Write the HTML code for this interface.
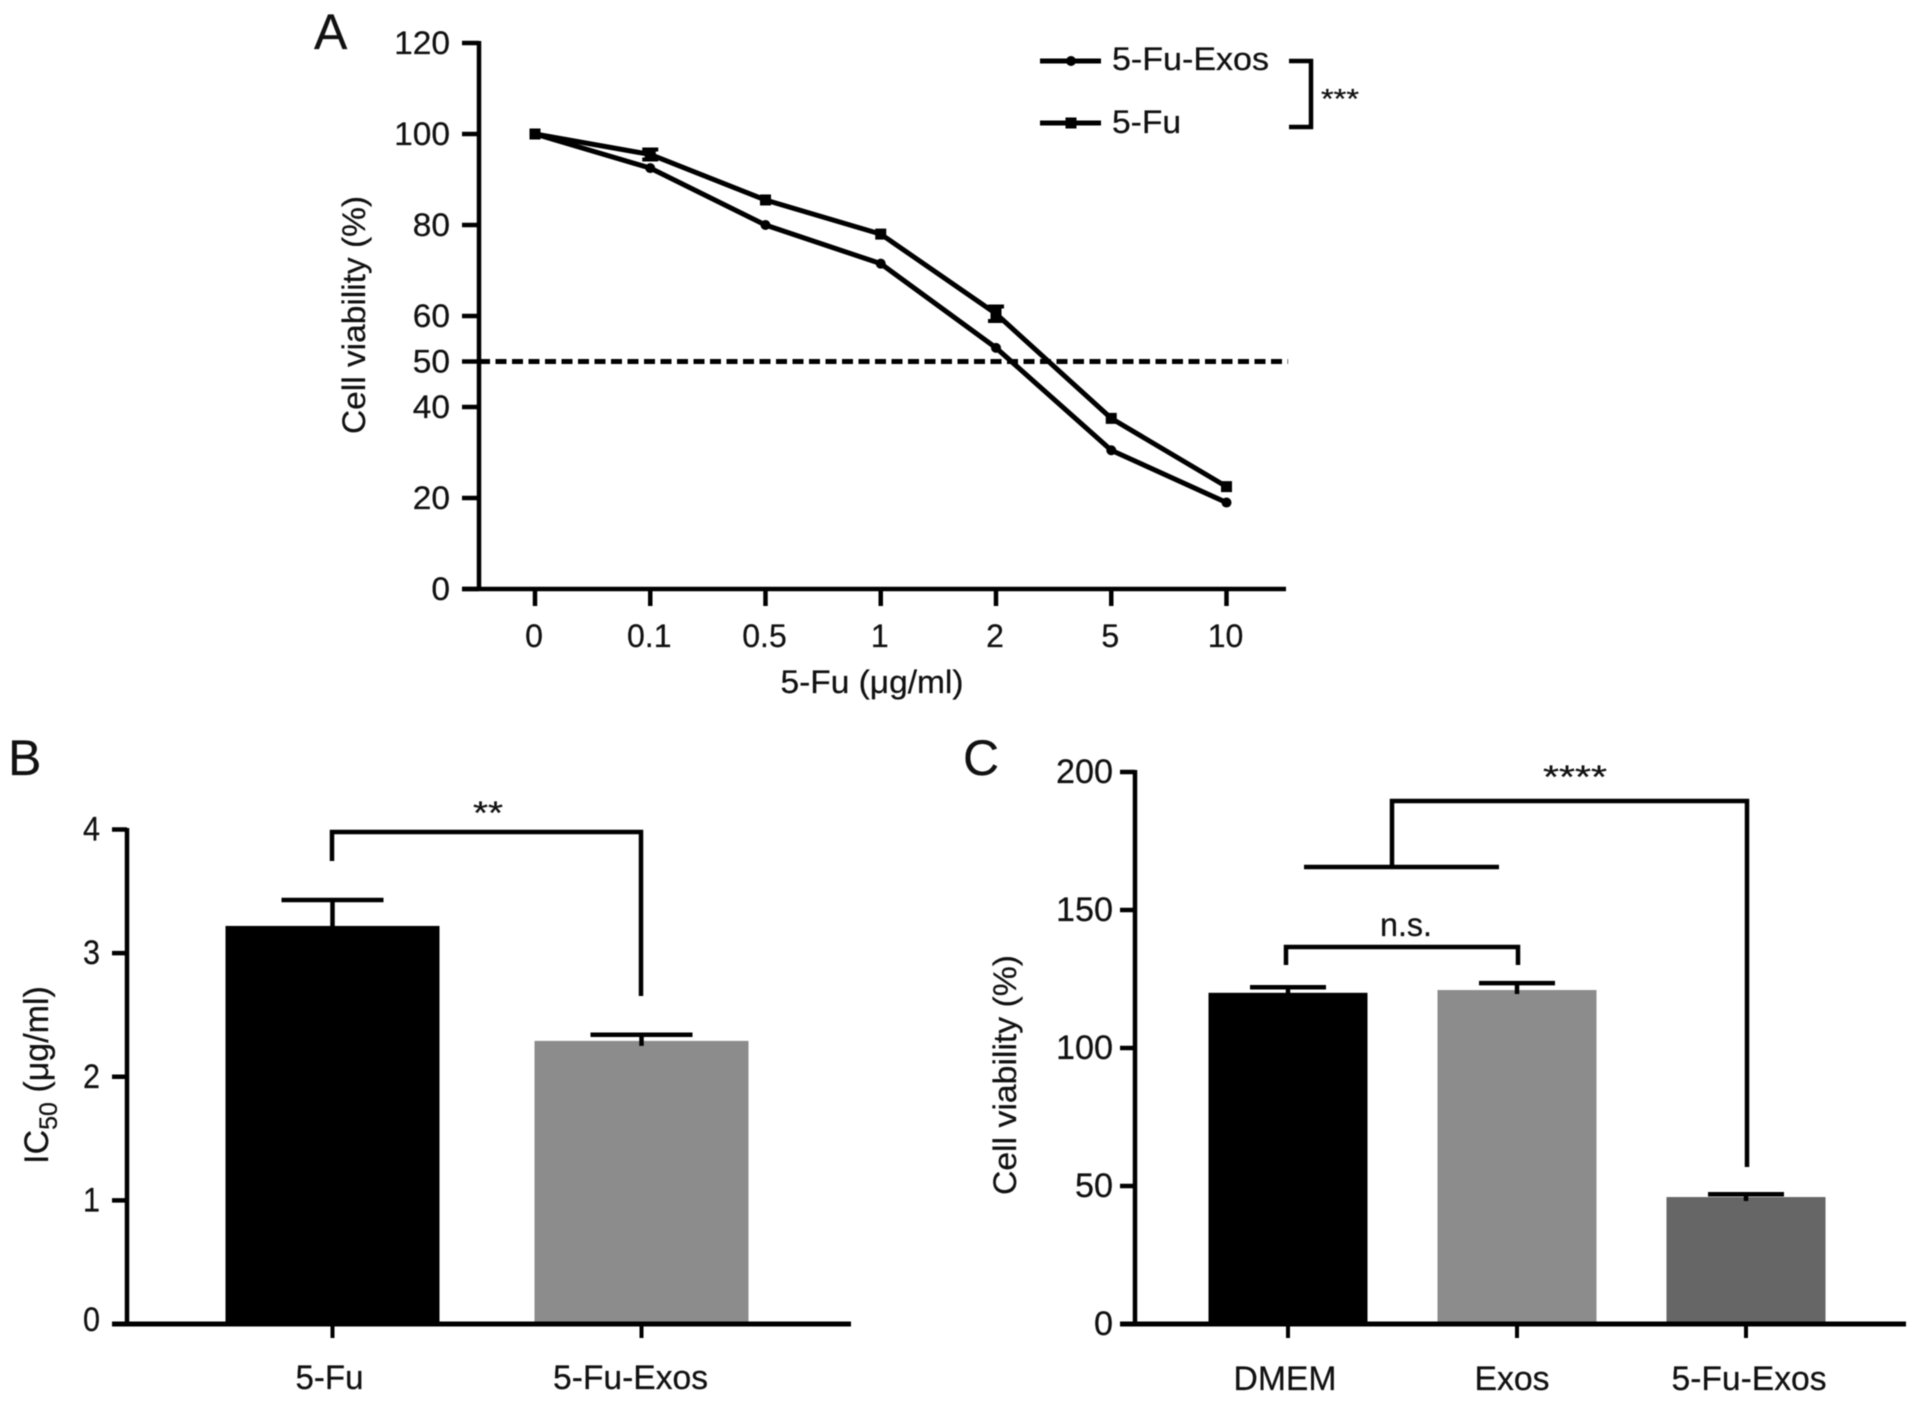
<!DOCTYPE html>
<html lang="en">
<head>
<meta charset="utf-8">
<title>Cell viability and IC50 charts</title>
<style>
html,body{margin:0;padding:0;background:#fff;}
svg{display:block;filter:blur(0.6px);}
text{font-family:"Liberation Sans",sans-serif;fill:#111;stroke:#111;stroke-width:0.25px;}
</style>
</head>
<body>
<svg id="figure" xmlns="http://www.w3.org/2000/svg" width="1913" height="1401" viewBox="0 0 1913 1401"></svg>
<script>
// Panel A data
const doseCategories = ['0', '0.1', '0.5', '1', '2', '5', '10'];
const exosViability = [100, 92.5, 80, 71.5, 53, 30.5, 19];
const fuViability = [100, 95.5, 85.5, 78, 60.5, 37.5, 22.5];
const fuError = [0, 1.1, 0, 0, 1.6, 0, 0];
const panelATicks = [0, 20, 40, 50, 60, 80, 100, 120];
const referenceLevel = 50;
// Panel B data
const icCategories = ['5-Fu', '5-Fu-Exos'];
const icValues = [3.22, 2.29];
const icErrors = [0.21, 0.05];
const panelBTicks = [0, 1, 2, 3, 4];
// Panel C data
const viabilityCategories = ['DMEM', 'Exos', '5-Fu-Exos'];
const viabilityValues = [120, 121, 46];
const viabilityErrors = [2, 2.5, 1];
const panelCTicks = [0, 50, 100, 150, 200];

const svg = document.getElementById('figure');
const NS = 'http://www.w3.org/2000/svg';
const INK = '#000000';

function make(tag, attrs, parent) {
  const el = document.createElementNS(NS, tag);
  for (const k in attrs) el.setAttribute(k, attrs[k]);
  (parent || svg).appendChild(el);
  return el;
}
function line(x1, y1, x2, y2, w, parent) {
  return make('line', {x1, y1, x2, y2, stroke: INK, 'stroke-width': w}, parent);
}
function poly(d, w, parent) {
  return make('path', {d, fill: 'none', stroke: INK, 'stroke-width': w, 'stroke-linejoin': 'miter'}, parent);
}
function label(str, x, y, size, anchor, width, parent) {
  const attrs = {x, y, 'font-size': size, 'text-anchor': anchor};
  if (width) { attrs.textLength = width; attrs.lengthAdjust = 'spacingAndGlyphs'; }
  const el = make('text', attrs, parent);
  el.textContent = str;
  return el;
}
function group(name) {
  const g = make('g', {});
  
  
  return g;
}

/* ---------- Panel A ---------- */
const panelA = group('panel-a-line-chart');
const ayScale = v => 589 - (v / 120) * 546;
const axScale = i => 535 + i * 115.25;

const aTitle = label('A', 314, 49, 50, 'start', 0, panelA);



const aYAxis = line(479, 41, 479, 591, 4.5, panelA);


const aXAxis = line(462, 589, 1286, 589, 4.5, panelA);



panelATicks.forEach(t => {
  const tick = line(462, ayScale(t), 479, ayScale(t), 4.5, panelA);
  
  
  const txt = label(String(t), 450, ayScale(t) + 11, 32, 'end', String(t).length * 18.6, panelA);
  
  
});
doseCategories.forEach((c, i) => {
  const tick = line(axScale(i), 589, axScale(i), 606, 4.5, panelA);
  
  
  const txt = label(c, axScale(i) - 1, 647, 32, 'middle', 0, panelA);
  
  
});

const aXTitle = label('5-Fu (μg/ml)', 872, 693, 32, 'middle', 183, panelA);


const aYTitle = label('Cell viability (%)', 0, 0, 32, 'middle', 238, panelA);
aYTitle.setAttribute('transform', 'translate(365 315) rotate(-90)');



const refLine = make('line', {x1: 479, x2: 1288, y1: ayScale(referenceLevel), y2: ayScale(referenceLevel), stroke: INK, 'stroke-width': 5, 'stroke-dasharray': '11 5.5'}, panelA);



function linePath(values) {
  return values.map((v, i) => (i ? 'L' : 'M') + axScale(i) + ' ' + ayScale(v)).join(' ');
}
const exosLine = poly(linePath(exosViability), 5, panelA);


const fuLine = poly(linePath(fuViability), 5, panelA);



exosViability.forEach((v, i) => {
  const dot = make('circle', {cx: axScale(i), cy: ayScale(v), r: 5, fill: INK}, panelA);
  
  
});
fuViability.forEach((v, i) => {
  const sq = make('rect', {x: axScale(i) - 5.5, y: ayScale(v) - 5.5, width: 11, height: 11, fill: INK}, panelA);
  
  
  const err = fuError[i];
  if (err > 0) {
    const bar = poly('M' + (axScale(i) - 8) + ' ' + ayScale(v + err) + 'H' + (axScale(i) + 8) + 'M' + (axScale(i) - 8) + ' ' + ayScale(v - err) + 'H' + (axScale(i) + 8), 4, panelA);
    
    
  }
});

/* Legend */
const legend = group('panel-a-legend');
const legendLine1 = line(1040, 61, 1101, 61, 5, legend);


const legendDot = make('circle', {cx: 1071, cy: 61, r: 5, fill: INK}, legend);


const legendText1 = label('5-Fu-Exos', 1112, 70, 32, 'start', 157, legend);


const legendLine2 = line(1040, 123, 1101, 123, 5, legend);


const legendSq = make('rect', {x: 1065.5, y: 117.5, width: 11, height: 11, fill: INK}, legend);


const legendText2 = label('5-Fu', 1112, 133, 32, 'start', 69, legend);


const legendBracket = poly('M1289 61H1311V127H1289', 4.5, legend);


const legendStars = label('***', 1340, 108, 28, 'middle', 38, legend);



/* ---------- Panel B ---------- */
const panelB = group('panel-b-bar-chart');
const BAR_B = 214;
const byScale = v => 1324 - (v / 4) * 494.5;
const bxScale = i => 332.5 + i * 309;

const bTitle = label('B', 8, 775, 50, 'start', 0, panelB);



const bBarFill = ['#000000', '#8c8c8c'];
icCategories.forEach((c, i) => {
  const bar = make('rect', {x: bxScale(i) - BAR_B / 2, y: byScale(icValues[i]), width: BAR_B, height: 1324 - byScale(icValues[i]), fill: bBarFill[i]}, panelB);
  
  
  const top = byScale(icValues[i] + icErrors[i]);
  const err = poly('M' + (bxScale(i) - 51) + ' ' + top + 'H' + (bxScale(i) + 51) + 'M' + bxScale(i) + ' ' + top + 'V' + (byScale(icValues[i]) + 5), 4.5, panelB);
  
  
  const tick = line(bxScale(i), 1324, bxScale(i), 1338, 4, panelB);
  
  
  const txt = label(c, bxScale(i) + (i ? -11 : -3), 1389, 34, 'middle', c.length > 4 ? 155 : 68, panelB);
  
  
});
const bYAxis = line(127, 828, 127, 1326, 4.5, panelB);


const bXAxis = line(112, 1324, 851, 1324, 5, panelB);


panelBTicks.forEach(t => {
  const tick = line(112, byScale(t), 127, byScale(t), 4.5, panelB);
  
  
  const txt = label(String(t), 100, byScale(t) + 6 + (t === 0 ? 1 : 5), 34, 'end', 17, panelB);
  
  
});
const bYTitle = make('text', {'font-size': 34, 'text-anchor': 'middle', transform: 'translate(48 1075) rotate(-90)'}, panelB);


bYTitle.appendChild(document.createTextNode('IC'));
const bSub = make('tspan', {'font-size': 25, dy: 9}, bYTitle);
bSub.textContent = '50';
const bRest = make('tspan', {dy: -9}, bYTitle);
bRest.textContent = ' (μg/ml)';
const bBracket = poly('M332 861V832H641V996', 4.5, panelB);


const bStars = label('**', 488, 824, 32, 'middle', 30, panelB);



/* ---------- Panel C ---------- */
const panelC = group('panel-c-bar-chart');
const BAR_C = 159;
const cyScale = v => 1324 - (v / 200) * 552;
const cxScale = i => 1288 + i * 229;

const cTitle = label('C', 963, 775, 50, 'start', 0, panelC);



const cBarFill = ['#000000', '#8c8c8c', '#666666'];
const cLabelWidth = [103, 75, 155];
const cLabelOffset = [-3, -5, 3];
viabilityCategories.forEach((c, i) => {
  const bar = make('rect', {x: cxScale(i) - BAR_C / 2, y: cyScale(viabilityValues[i]), width: BAR_C, height: 1324 - cyScale(viabilityValues[i]), fill: cBarFill[i]}, panelC);
  
  
  const top = cyScale(viabilityValues[i] + viabilityErrors[i]);
  const err = poly('M' + (cxScale(i) - 38) + ' ' + top + 'H' + (cxScale(i) + 38) + 'M' + cxScale(i) + ' ' + top + 'V' + (cyScale(viabilityValues[i]) + 4), 4.5, panelC);
  
  
  const tick = line(cxScale(i), 1324, cxScale(i), 1338, 4, panelC);
  
  
  const txt = label(c, cxScale(i) + cLabelOffset[i], 1390, 34, 'middle', cLabelWidth[i], panelC);
  
  
});
const cYAxis = line(1135, 770, 1135, 1326, 4.5, panelC);


const cXAxis = line(1120, 1324, 1906, 1324, 5, panelC);


panelCTicks.forEach(t => {
  const tick = line(1120, cyScale(t), 1135, cyScale(t), 4.5, panelC);
  
  
  const txt = label(String(t), 1113, cyScale(t) + 11, 34, 'end', String(t).length * 19, panelC);
  
  
});
const cYTitle = label('Cell viability (%)', 0, 0, 32, 'middle', 240, panelC);
cYTitle.setAttribute('transform', 'translate(1016 1075) rotate(-90)');


const nsBracket = poly('M1286 965V947H1518V965', 4.5, panelC);


const nsText = label('n.s.', 1406, 936, 33, 'middle', 52, panelC);


const groupBar = line(1304, 867, 1499, 867, 4.5, panelC);


const cBracket = poly('M1392 867V801H1747V1167', 4.5, panelC);


const cStars = label('****', 1575, 788, 32, 'middle', 64, panelC);


</script>
</body>
</html>
